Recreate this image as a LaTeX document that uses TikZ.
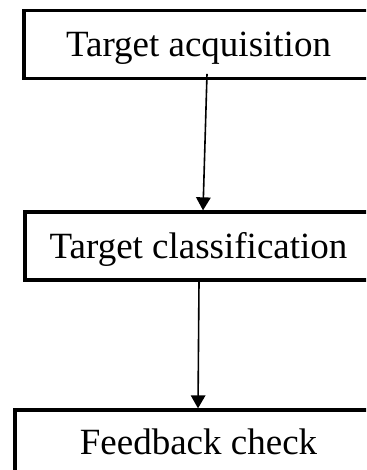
\documentclass[tikz,border=0pt]{standalone}
\usepackage{fontspec}
\setmainfont{Liberation Serif}
\usetikzlibrary{arrows.meta}

\tikzset{
  stage/.style={draw, line width=3.3bp, inner sep=0pt, minimum height=#1,
    text height=24.5bp, text depth=0pt,
    font=\fontsize{37bp}{44bp}\selectfont},
  flow/.style={line width=1.6bp, -{Triangle[length=13bp,width=14.5bp]}}
}

\begin{document}
\begin{tikzpicture}[x=1bp, y=-1bp]
  \useasboundingbox (0,0) rectangle (366,470);
  \clip (0,0) rectangle (366,470);
  \fill[white] (0,0) rectangle (366,470);

  \node[stage=68.5bp, minimum width=349bp] (acq) at (198.5,44.5) {Target acquisition};
  \node[stage=68bp, minimum width=347bp] (cls) at (198.5,246) {Target classification};
  \node[stage=64bp, minimum width=367bp] (fb) at (198.5,442) {Feedback check};

  \draw[flow] ([xshift=8.5bp,yshift=6.5bp]acq.south) -- ([xshift=4.5bp]cls.north);
  \draw[flow] ([xshift=0.5bp]cls.south) -- ([xshift=-0.5bp]fb.north);
\end{tikzpicture}
\end{document}
